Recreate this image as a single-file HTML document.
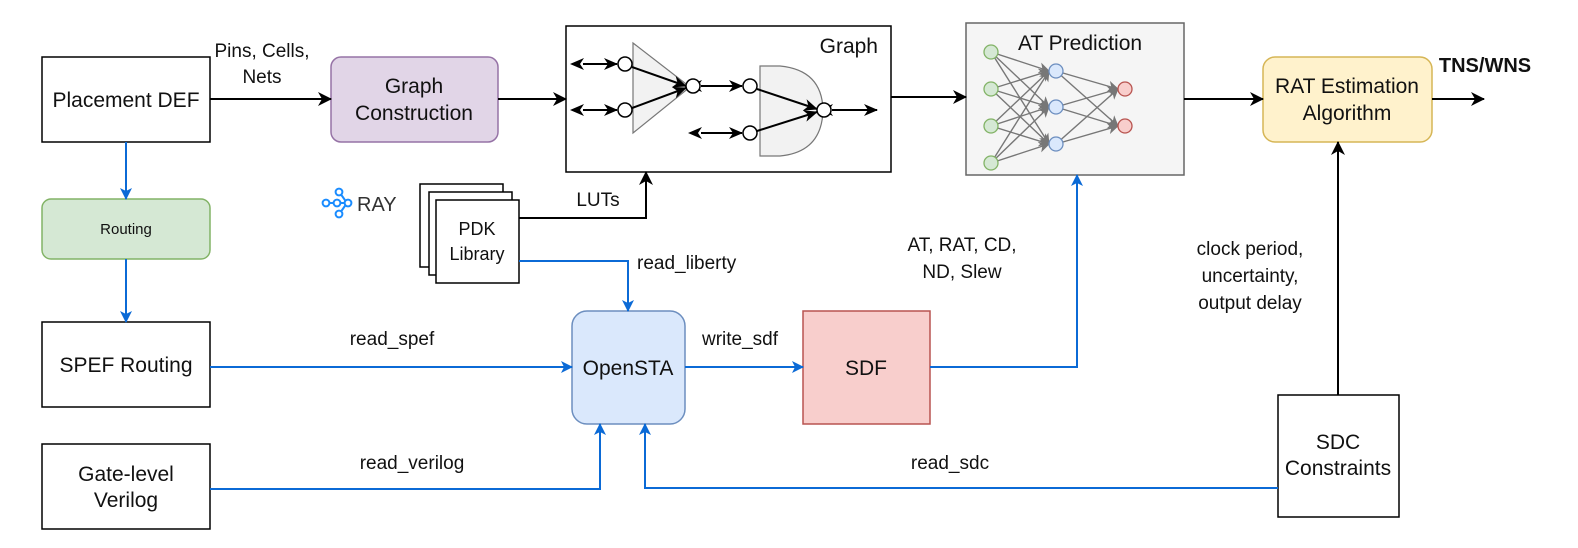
<!DOCTYPE html>
<html><head><meta charset="utf-8"><style>
html,body{margin:0;padding:0;background:#fff}
svg{display:block}
text{font-family:"Liberation Sans",Arial,sans-serif;fill:#111}
</style></head><body>
<svg width="1578" height="548" viewBox="0 0 1578 548" xmlns="http://www.w3.org/2000/svg">
<defs>
<marker id="ak" markerWidth="14" markerHeight="14" refX="13" refY="7" orient="auto" markerUnits="userSpaceOnUse"><path d="M0,1 L14,7 L0,13 L4,7 z" fill="#000"/></marker>
<marker id="ab" markerWidth="12" markerHeight="12" refX="11" refY="6" orient="auto" markerUnits="userSpaceOnUse"><path d="M0,0 L12,6 L0,12 L3,6 z" fill="#0b6ad6"/></marker>
<marker id="ak2" markerWidth="14" markerHeight="14" refX="13" refY="7" orient="auto" markerUnits="userSpaceOnUse"><path d="M0,0 L14,7 L0,14 L4,7 z" fill="#000"/></marker>
<marker id="ag" markerWidth="11" markerHeight="11" refX="10" refY="5.5" orient="auto" markerUnits="userSpaceOnUse"><path d="M0,0 L11,5.5 L0,11 L3,5.5 z" fill="#777"/></marker>
<marker id="ad" markerWidth="14" markerHeight="14" refX="1" refY="7" orient="auto-start-reverse" markerUnits="userSpaceOnUse"><path d="M0,1 L14,7 L0,13 L4,7 z" fill="#000"/></marker>
</defs>

<rect x="42" y="57" width="168" height="85" fill="#fff" stroke="#000" stroke-width="1.5"/>
<text x="126" y="107" font-size="21" text-anchor="middle">Placement DEF</text>

<rect x="42" y="199" width="168" height="60" rx="9" fill="#d5e8d4" stroke="#82b366" stroke-width="1.5"/>
<text x="126" y="234" font-size="15" text-anchor="middle">Routing</text>

<rect x="42" y="322" width="168" height="85" fill="#fff" stroke="#000" stroke-width="1.5"/>
<text x="126" y="372" font-size="21" text-anchor="middle">SPEF Routing</text>

<rect x="42" y="444" width="168" height="85" fill="#fff" stroke="#000" stroke-width="1.5"/>
<text x="126" y="481" font-size="21" text-anchor="middle">Gate-level</text>
<text x="126" y="507" font-size="21" text-anchor="middle">Verilog</text>

<rect x="331" y="57" width="167" height="85" rx="10" fill="#e1d5e7" stroke="#9673a6" stroke-width="1.5"/>
<text x="414" y="93" font-size="21" text-anchor="middle">Graph</text>
<text x="414" y="120" font-size="21" text-anchor="middle">Construction</text>

<rect x="566" y="26" width="325" height="146" fill="#fff" stroke="#000" stroke-width="1.5"/>
<text x="878" y="53" font-size="21" text-anchor="end">Graph</text>
<polygon points="633,43 633,133 690,87" fill="#f2f2f2" stroke="#777" stroke-width="1.2"/>
<path d="M760,66 L780,66 Q822,70 823,110 Q822,152 780,156 L760,156 Z" fill="#f2f2f2" stroke="#777" stroke-width="1.2"/>
<g stroke="#000" stroke-width="2" fill="none">
<line x1="583" y1="64" x2="617" y2="64" marker-start="url(#ad)" marker-end="url(#ak)"/>
<line x1="583" y1="110" x2="617" y2="110" marker-start="url(#ad)" marker-end="url(#ak)"/>
<line x1="632" y1="67" x2="686" y2="86" marker-end="url(#ak)"/>
<line x1="632" y1="108" x2="686" y2="88" marker-end="url(#ak)"/>
<line x1="701" y1="86" x2="742" y2="86" marker-start="url(#ad)" marker-end="url(#ak)"/>
<line x1="701" y1="133" x2="742" y2="133" marker-start="url(#ad)" marker-end="url(#ak)"/>
<line x1="757" y1="89" x2="817" y2="109" marker-end="url(#ak)"/>
<line x1="757" y1="131" x2="817" y2="112" marker-end="url(#ak)"/>
<line x1="832" y1="110" x2="877" y2="110" marker-start="url(#ad)" marker-end="url(#ak)"/>
</g>
<g fill="#fff" stroke="#000" stroke-width="1.5">
<circle cx="625" cy="64" r="7"/><circle cx="625" cy="110" r="7"/><circle cx="693" cy="86" r="7"/>
<circle cx="750" cy="86" r="7"/><circle cx="750" cy="133" r="7"/><circle cx="824" cy="110" r="7"/>
</g>

<rect x="966" y="23" width="218" height="152" fill="#f5f5f5" stroke="#666" stroke-width="1.5"/>
<text x="1080" y="50" font-size="21" text-anchor="middle">AT Prediction</text>
<g stroke="#777" stroke-width="1.4">
<line x1="991" y1="52" x2="1049" y2="71" marker-end="url(#ag)"/><line x1="991" y1="52" x2="1049" y2="107" marker-end="url(#ag)"/><line x1="991" y1="52" x2="1049" y2="144" marker-end="url(#ag)"/>
<line x1="991" y1="89" x2="1049" y2="71" marker-end="url(#ag)"/><line x1="991" y1="89" x2="1049" y2="107" marker-end="url(#ag)"/><line x1="991" y1="89" x2="1049" y2="144" marker-end="url(#ag)"/>
<line x1="991" y1="126" x2="1049" y2="71" marker-end="url(#ag)"/><line x1="991" y1="126" x2="1049" y2="107" marker-end="url(#ag)"/><line x1="991" y1="126" x2="1049" y2="144" marker-end="url(#ag)"/>
<line x1="991" y1="163" x2="1049" y2="71" marker-end="url(#ag)"/><line x1="991" y1="163" x2="1049" y2="107" marker-end="url(#ag)"/><line x1="991" y1="163" x2="1049" y2="144" marker-end="url(#ag)"/>
<line x1="1056" y1="71" x2="1118" y2="89" marker-end="url(#ag)"/><line x1="1056" y1="71" x2="1118" y2="126" marker-end="url(#ag)"/>
<line x1="1056" y1="107" x2="1118" y2="89" marker-end="url(#ag)"/><line x1="1056" y1="107" x2="1118" y2="126" marker-end="url(#ag)"/>
<line x1="1056" y1="144" x2="1118" y2="89" marker-end="url(#ag)"/><line x1="1056" y1="144" x2="1118" y2="126" marker-end="url(#ag)"/>
</g>
<g stroke-width="1.3">
<circle cx="991" cy="52" r="7" fill="#d5e8d4" stroke="#82b366"/><circle cx="991" cy="89" r="7" fill="#d5e8d4" stroke="#82b366"/>
<circle cx="991" cy="126" r="7" fill="#d5e8d4" stroke="#82b366"/><circle cx="991" cy="163" r="7" fill="#d5e8d4" stroke="#82b366"/>
<circle cx="1056" cy="71" r="7" fill="#dae8fc" stroke="#6c8ebf"/><circle cx="1056" cy="107" r="7" fill="#dae8fc" stroke="#6c8ebf"/><circle cx="1056" cy="144" r="7" fill="#dae8fc" stroke="#6c8ebf"/>
<circle cx="1125" cy="89" r="7" fill="#f8cecc" stroke="#b85450"/><circle cx="1125" cy="126" r="7" fill="#f8cecc" stroke="#b85450"/>
</g>

<rect x="1263" y="57" width="169" height="85" rx="12" fill="#fff2cc" stroke="#d6b656" stroke-width="1.5"/>
<text x="1347" y="93" font-size="21" text-anchor="middle">RAT Estimation</text>
<text x="1347" y="120" font-size="21" text-anchor="middle">Algorithm</text>
<text x="1485" y="72" font-size="20" font-weight="bold" text-anchor="middle">TNS/WNS</text>

<rect x="420" y="184" width="83" height="83" fill="#fff" stroke="#000" stroke-width="1.5"/>
<rect x="429" y="192" width="83" height="83" fill="#fff" stroke="#000" stroke-width="1.5"/>
<rect x="436" y="200" width="83" height="83" fill="#fff" stroke="#000" stroke-width="1.5"/>
<text x="477" y="235" font-size="18" text-anchor="middle">PDK</text>
<text x="477" y="260" font-size="18" text-anchor="middle">Library</text>

<g stroke="#1a8cff" stroke-width="2" fill="none">
<line x1="326" y1="203" x2="352" y2="203"/><line x1="347" y1="203" x2="340" y2="193"/><line x1="347" y1="203" x2="340" y2="213"/>
<circle cx="326" cy="203" r="3.4" fill="#fff"/><circle cx="337" cy="203" r="3.4" fill="#fff"/><circle cx="348" cy="203" r="3.4" fill="#fff"/>
<circle cx="339" cy="192" r="3.4" fill="#fff"/><circle cx="339" cy="214" r="3.4" fill="#fff"/>
</g>
<text x="357" y="211" font-size="20" style="fill:#333">RAY</text>

<rect x="572" y="311" width="113" height="113" rx="15" fill="#dae8fc" stroke="#6c8ebf" stroke-width="1.5"/>
<text x="628" y="375" font-size="21" text-anchor="middle">OpenSTA</text>
<rect x="803" y="311" width="127" height="113" fill="#f8cecc" stroke="#b85450" stroke-width="1.5"/>
<text x="866" y="375" font-size="21" text-anchor="middle">SDF</text>
<rect x="1278" y="395" width="121" height="122" fill="#fff" stroke="#000" stroke-width="1.5"/>
<text x="1338" y="449" font-size="21" text-anchor="middle">SDC</text>
<text x="1338" y="475" font-size="21" text-anchor="middle">Constraints</text>

<g stroke="#000" stroke-width="2" fill="none">
<line x1="210" y1="99" x2="331" y2="99" marker-end="url(#ak2)"/>
<line x1="498" y1="99" x2="566" y2="99" marker-end="url(#ak2)"/>
<line x1="891" y1="97" x2="966" y2="97" marker-end="url(#ak2)"/>
<line x1="1184" y1="99" x2="1263" y2="99" marker-end="url(#ak2)"/>
<line x1="1432" y1="99" x2="1484" y2="99" marker-end="url(#ak2)"/>
<polyline points="519,218 646,218 646,172" marker-end="url(#ak2)"/>
<line x1="1338" y1="395" x2="1338" y2="142" marker-end="url(#ak2)"/>
</g>
<g stroke="#0b6ad6" stroke-width="2" fill="none">
<line x1="126" y1="142" x2="126" y2="199" marker-end="url(#ab)"/>
<line x1="126" y1="259" x2="126" y2="322" marker-end="url(#ab)"/>
<polyline points="519,261 628,261 628,311" marker-end="url(#ab)"/>
<line x1="210" y1="367" x2="572" y2="367" marker-end="url(#ab)"/>
<polyline points="210,489 600,489 600,424" marker-end="url(#ab)"/>
<line x1="685" y1="367" x2="803" y2="367" marker-end="url(#ab)"/>
<polyline points="930,367 1077,367 1077,175" marker-end="url(#ab)"/>
<polyline points="1278,488 645,488 645,424" marker-end="url(#ab)"/>
</g>

<text x="262" y="57" font-size="19" text-anchor="middle">Pins, Cells,</text>
<text x="262" y="83" font-size="19" text-anchor="middle">Nets</text>
<text x="598" y="206" font-size="19" text-anchor="middle">LUTs</text>
<text x="637" y="269" font-size="19">read_liberty</text>
<text x="392" y="345" font-size="19" text-anchor="middle">read_spef</text>
<text x="740" y="345" font-size="19" text-anchor="middle">write_sdf</text>
<text x="412" y="469" font-size="19" text-anchor="middle">read_verilog</text>
<text x="950" y="469" font-size="19" text-anchor="middle">read_sdc</text>
<text x="962" y="251" font-size="19" text-anchor="middle">AT, RAT, CD,</text>
<text x="962" y="278" font-size="19" text-anchor="middle">ND, Slew</text>
<text x="1250" y="255" font-size="19" text-anchor="middle">clock period,</text>
<text x="1250" y="282" font-size="19" text-anchor="middle">uncertainty,</text>
<text x="1250" y="309" font-size="19" text-anchor="middle">output delay</text>
</svg>
</body></html>
